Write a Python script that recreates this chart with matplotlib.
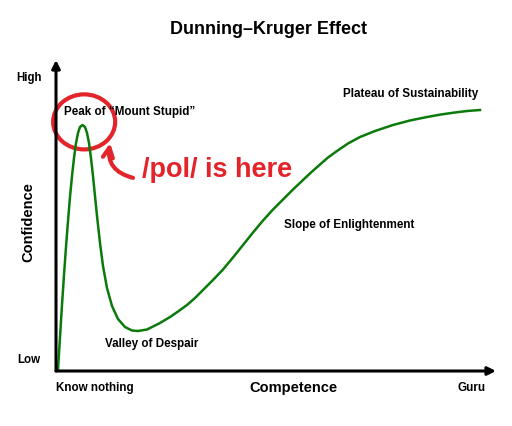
import matplotlib
matplotlib.use("Agg")
import matplotlib.pyplot as plt
from matplotlib.patches import Ellipse

plt.rcParams["font.family"] = ["Liberation Sans", "DejaVu Sans"]

# competence (0-100) vs confidence (0-100)
competence = [0.45, 0.91, 1.36, 1.82, 2.27, 2.73, 3.18, 3.64, 4.09, 4.55,
              5.00, 5.45, 6.02, 6.59, 7.05, 7.50, 7.95, 8.41, 8.86, 9.32,
              10.00, 10.68, 11.59, 12.73, 14.09, 15.68, 17.27, 18.64,
              20.68, 23.64, 25.91, 27.73, 29.77, 31.59, 33.41, 35.68,
              37.95, 40.23, 42.50, 44.77, 47.05, 49.32, 51.59, 53.86,
              56.14, 57.95, 60.00, 61.82, 63.86, 66.36, 69.09, 72.50,
              76.59, 80.45, 84.32, 87.50, 90.68, 93.41, 96.36]
confidence = [0.32, 10.93, 21.22, 30.87, 39.87, 48.23, 55.95, 62.70, 68.49,
              73.31, 76.53, 78.46, 79.10, 78.46, 76.53, 73.31, 68.49, 62.70,
              56.27, 49.84, 41.16, 33.76, 26.69, 20.90, 16.72, 14.15, 13.02,
              12.86, 13.34, 15.43, 17.36, 19.13, 21.22, 23.47, 26.05, 29.26,
              32.64, 36.50, 40.51, 44.53, 48.39, 51.93, 55.14, 58.36, 61.41,
              63.83, 66.40, 68.65, 70.74, 73.15, 75.24, 77.17, 79.10, 80.55,
              81.67, 82.48, 83.12, 83.60, 83.92]

stages = ["Peak of \u201cMount Stupid\u201d", "Valley of Despair",
          "Slope of Enlightenment", "Plateau of Sustainability"]
stage_x = [1.8, 11.1, 51.8, 65.2]
stage_y = [83.3, 8.8, 46.9, 89.1]

fig = plt.figure(figsize=(5.12, 4.26), dpi=100)
ax = fig.add_axes([56 / 512, 1 - 371 / 426, 440 / 512, 311 / 426])
ax.set_xlim(0, 100)
ax.set_ylim(0, 100)
ax.axis("off")

# axes with arrow heads
ax.annotate("", xy=(100, 0), xytext=(0, 0), annotation_clip=False,
            arrowprops=dict(arrowstyle="-|>", lw=2.2, color="black",
                            mutation_scale=12, shrinkA=0, shrinkB=0))
ax.annotate("", xy=(0, 100), xytext=(0, 0), annotation_clip=False,
            arrowprops=dict(arrowstyle="-|>", lw=2.2, color="black",
                            mutation_scale=12, shrinkA=0, shrinkB=0))

ax.plot(competence, confidence, color="#0a7a0a", lw=1.8,
        solid_joinstyle="round", clip_on=False)

for label, x, y in zip(stages, stage_x, stage_y):
    ax.text(x, y, label, fontsize=8.4, fontweight="bold", ha="left",
            va="center")

ax.text(-6.2, 94.2, "High", fontsize=8.3, fontweight="bold", ha="center",
        va="center")
ax.text(-6.2, 3.5, "Low", fontsize=8.3, fontweight="bold", ha="center",
        va="center")
ax.text(0, -5.5, "Know nothing", fontsize=8.4, fontweight="bold",
        ha="left", va="center")
ax.text(97.6, -5.5, "Guru", fontsize=8.4, fontweight="bold", ha="right",
        va="center")
ax.text(54, -5.5, "Competence", fontsize=10.5, fontweight="bold",
        ha="center", va="center")
ax.text(-6.2, 48, "Confidence", fontsize=10.5, fontweight="bold",
        ha="center", va="center", rotation=90)

fig.text(269 / 512, 1 - 29 / 426, "Dunning\u2013Kruger Effect", fontsize=13,
         fontweight="bold", ha="center", va="center")

# red scribble
red = "#e3242b"
ax.add_patch(Ellipse((6.4, 80.1), 14.1, 17.7, fill=False, ec=red, lw=3,
                     clip_on=False))
ax.annotate("", xy=(12.3, 73.3), xytext=(17.5, 62.1),
            arrowprops=dict(arrowstyle="->", lw=3, color=red,
                            mutation_scale=18, shrinkA=0, shrinkB=0,
                            connectionstyle="arc3,rad=-0.45"))
ax.text(19.5, 64.5, "/pol/ is here", fontsize=19.5, fontweight="bold",
        color=red, ha="left", va="center")

fig.savefig("out.png", dpi=100, facecolor="white")
